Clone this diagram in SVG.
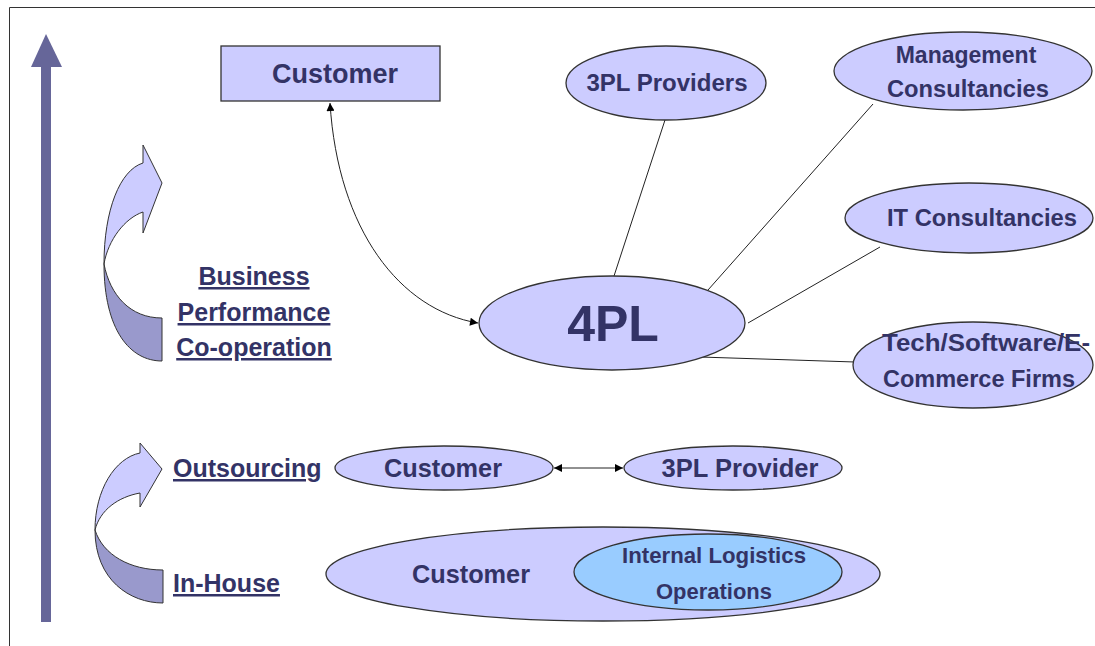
<svg xmlns="http://www.w3.org/2000/svg" width="1095" height="646" viewBox="0 0 1095 646">
<defs>
<style>
.n{fill:#CCCCFF;stroke:#333333;stroke-width:1.3}
.t{font-family:"Liberation Sans",Arial,sans-serif;font-weight:bold;fill:#333366;text-anchor:middle}
.lb{font-family:"Liberation Sans",Arial,sans-serif;font-weight:bold;fill:#333366;font-size:25px;text-decoration:underline}
.c{fill:none;stroke:#222222;stroke-width:1}
.lt{fill:#CCCCFF;stroke:#333333;stroke-width:1}
.dk{fill:#9999CC;stroke:#333333;stroke-width:1}
</style>
<marker id="ah" viewBox="0 0 10 10" refX="10" refY="5" markerWidth="10" markerHeight="8" markerUnits="userSpaceOnUse" orient="auto-start-reverse">
<path d="M0,0 L10,5 L0,10 Z" fill="#000"/>
</marker>
</defs>
<rect x="0" y="0" width="1095" height="646" fill="#FFFFFF"/>
<path d="M9.5,646 L9.5,7.5 L1095,7.5" fill="none" stroke="#333333" stroke-width="1"/>

<g id="axis-arrow">
<rect x="41" y="54" width="10" height="568" fill="#666699"/>
<path d="M31,67 L46,34 L62,67 Z" fill="#666699"/>
</g>

<g id="curved-arrow-upper">
<path class="lt" d="M104,264 C104,210 120,170 143,163 L143,145 L162,183 L143,233 L143,212 C125,218 108,240 104,264 Z"/>
<path class="dk" d="M104,264 C104,330 130,361 162,361 L162,318 C130,318 110,295 104,264 Z"/>
</g>
<g id="curved-arrow-lower">
<path class="lt" d="M95,530 C95,490 115,458 140,453 L140,443 L162,469 L140,507 L140,493 C118,497 100,510 95,530 Z"/>
<path class="dk" d="M95,530 C95,580 130,603 163,603 L163,570 C130,570 103,555 95,530 Z"/>
</g>

<g id="label-business">
<text class="lb" x="254" y="285" text-anchor="middle">Business</text>
<text class="lb" x="254" y="321" text-anchor="middle">Performance</text>
<text class="lb" x="254" y="356" text-anchor="middle">Co-operation</text>
</g>
<g id="label-outsourcing"><text class="lb" x="173" y="477">Outsourcing</text></g>
<g id="label-inhouse"><text class="lb" x="173" y="592">In-House</text></g>

<g id="connectors">
<path class="c" d="M330,103 C338,230 400,310 478,323" marker-start="url(#ah)" marker-end="url(#ah)"/>
<line class="c" x1="665" y1="120" x2="614" y2="276"/>
<line class="c" x1="873" y1="104" x2="708" y2="290"/>
<line class="c" x1="880" y1="247" x2="748" y2="323"/>
<line class="c" x1="700" y1="357" x2="855" y2="362"/>
<line class="c" x1="554" y1="468" x2="623" y2="468" marker-start="url(#ah)" marker-end="url(#ah)"/>
</g>

<g id="customer-top">
<rect class="n" x="221" y="46" width="219" height="55"/>
<text class="t" x="335" y="83" font-size="27">Customer</text>
</g>

<g id="provider-3pl-top">
<ellipse class="n" cx="666" cy="83" rx="100" ry="37"/>
<text class="t" x="667" y="91" font-size="23" textLength="161" lengthAdjust="spacingAndGlyphs">3PL Providers</text>
</g>

<g id="management">
<ellipse class="n" cx="963" cy="71" rx="129" ry="39"/>
<text class="t" x="966" y="63" font-size="23">Management</text>
<text class="t" x="968" y="97" font-size="23" textLength="162" lengthAdjust="spacingAndGlyphs">Consultancies</text>
</g>

<g id="it">
<ellipse class="n" cx="969" cy="218" rx="124" ry="35"/>
<text class="t" x="982" y="226" font-size="23" textLength="190" lengthAdjust="spacingAndGlyphs">IT Consultancies</text>
</g>

<g id="tech">
<ellipse class="n" cx="973" cy="365" rx="120" ry="43"/>
<text class="t" x="986" y="351" font-size="23" textLength="208" lengthAdjust="spacingAndGlyphs">Tech/Software/E-</text>
<text class="t" x="979" y="387" font-size="23" textLength="192" lengthAdjust="spacingAndGlyphs">Commerce Firms</text>
</g>

<g id="fourpl">
<ellipse class="n" cx="612" cy="323" rx="133" ry="47"/>
<text class="t" x="613" y="341" font-size="50">4PL</text>
</g>

<g id="customer-mid">
<ellipse class="n" cx="444" cy="468" rx="109" ry="22"/>
<text class="t" x="443" y="477" font-size="25" textLength="118" lengthAdjust="spacingAndGlyphs">Customer</text>
</g>

<g id="provider-3pl-mid">
<ellipse class="n" cx="733" cy="468" rx="109" ry="22"/>
<text class="t" x="740" y="477" font-size="25" textLength="157" lengthAdjust="spacingAndGlyphs">3PL Provider</text>
</g>

<g id="customer-inhouse">
<ellipse class="n" cx="603" cy="574" rx="277" ry="47"/>
<text class="t" x="471" y="583" font-size="25" textLength="118" lengthAdjust="spacingAndGlyphs">Customer</text>
</g>

<g id="internal-logistics">
<ellipse cx="708" cy="572" rx="134" ry="38" fill="#99CCFF" stroke="#333333" stroke-width="1.3"/>
<text class="t" x="714" y="563" font-size="22" textLength="184" lengthAdjust="spacingAndGlyphs">Internal Logistics</text>
<text class="t" x="714" y="599" font-size="22" textLength="116" lengthAdjust="spacingAndGlyphs">Operations</text>
</g>
</svg>
